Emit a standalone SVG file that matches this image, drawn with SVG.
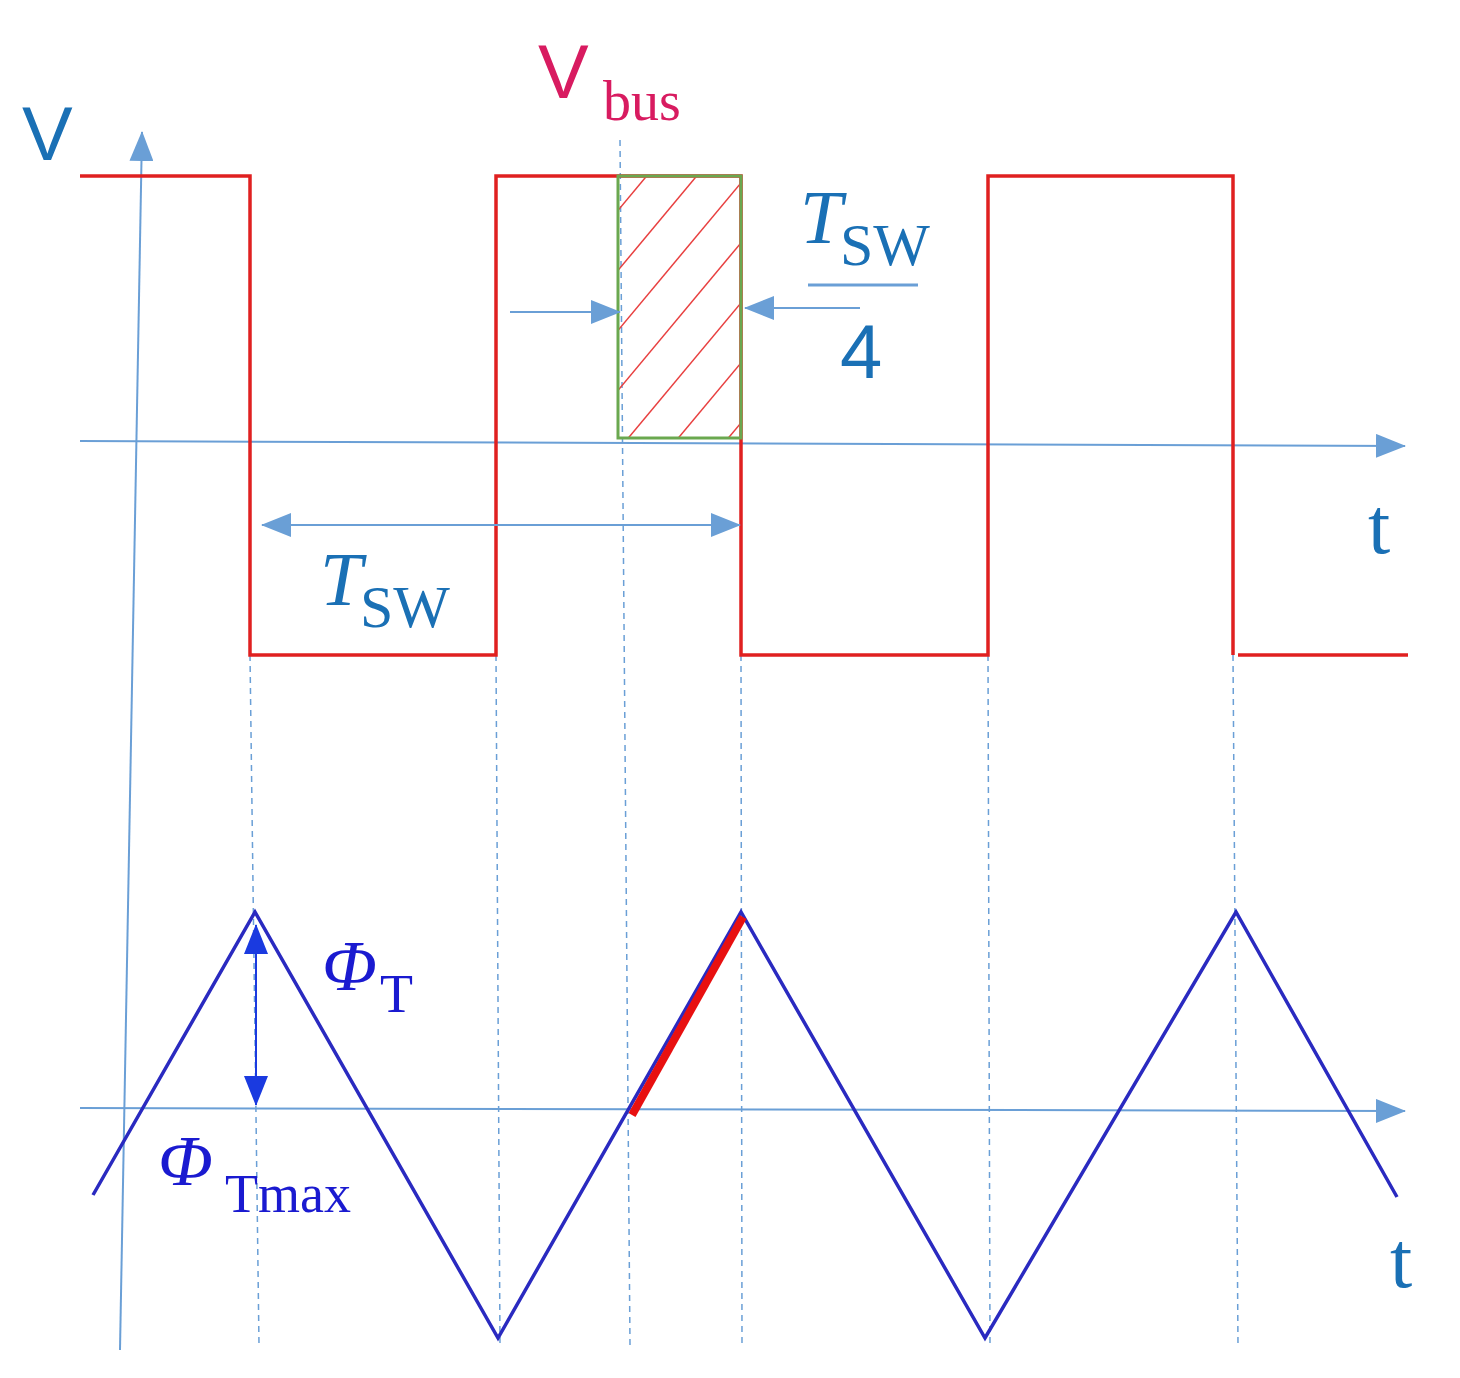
<svg xmlns="http://www.w3.org/2000/svg" width="1460" height="1378" viewBox="0 0 1460 1378">
<defs>
<style>
.ax{stroke:#6a9fd6;stroke-width:2;fill:none}
.dash{stroke:#6a9fd6;stroke-width:1.5;stroke-dasharray:6 5;fill:none}
.sq{stroke:#e02020;stroke-width:3.5;fill:none}
.tri{stroke:#2a2ac0;stroke-width:3.5;fill:none}
.lbl{font-family:"Liberation Serif",serif;fill:#1a70b5}
</style>
<marker id="ahl" markerWidth="30" markerHeight="24" refX="29" refY="12" orient="auto-start-reverse" markerUnits="userSpaceOnUse"><path d="M0,0 L30,12 L0,24 Z" fill="#6a9fd6"/></marker>
<marker id="ahb" markerWidth="30" markerHeight="24" refX="29" refY="12" orient="auto-start-reverse" markerUnits="userSpaceOnUse"><path d="M0,0 L30,12 L0,24 Z" fill="#1a3ae0"/></marker>
<clipPath id="cr"><rect x="618" y="176" width="123" height="262"/></clipPath>
</defs>
<rect width="1460" height="1378" fill="#fff"/>
<g id="dashes">
<line class="dash" x1="620" y1="140" x2="630" y2="1345"/>
<line class="dash" x1="250" y1="655" x2="259" y2="1345"/>
<line class="dash" x1="496" y1="655" x2="500" y2="1345"/>
<line class="dash" x1="741" y1="655" x2="742" y2="1345"/>
<line class="dash" x1="988" y1="655" x2="990" y2="1345"/>
<line class="dash" x1="1233" y1="655" x2="1238" y2="1345"/>
</g>
<g id="axes">
<line class="ax" x1="120" y1="1350" x2="142" y2="132" marker-end="url(#ahl)"/>
<line class="ax" x1="80" y1="441" x2="1405" y2="446" marker-end="url(#ahl)"/>
<line class="ax" x1="80" y1="1108" x2="1405" y2="1111" marker-end="url(#ahl)"/>
</g>
<g id="square">
<polyline class="sq" points="80,176 250,176 250,655 496,655 496,176 741,176 741,655 988,655 988,176 1233,176 1233,655"/>
<line class="sq" x1="1238" y1="655" x2="1408" y2="655"/>
</g>
<g id="hatch">
<g clip-path="url(#cr)" stroke="#e84040" stroke-width="1.5">
<line x1="560" y1="280" x2="760" y2="40"/>
<line x1="560" y1="340" x2="760" y2="100"/>
<line x1="560" y1="400" x2="760" y2="160"/>
<line x1="560" y1="460" x2="760" y2="220"/>
<line x1="560" y1="520" x2="760" y2="280"/>
<line x1="560" y1="580" x2="760" y2="340"/>
<line x1="560" y1="640" x2="760" y2="400"/>
</g>
<rect x="618" y="176" width="123" height="262" fill="none" stroke="#6aa84f" stroke-width="3"/>
</g>
<g id="triangle">
<polyline class="tri" points="93,1195 255,912 498,1338 741,912 985,1338 1236,912 1397,1197"/>
<line x1="632" y1="1115" x2="743" y2="917" stroke="#e81010" stroke-width="8"/>
</g>
<g id="arrows">
<line class="ax" x1="262" y1="525" x2="740" y2="525" marker-start="url(#ahl)" marker-end="url(#ahl)"/>
<line class="ax" x1="510" y1="312" x2="620" y2="312" marker-end="url(#ahl)"/>
<line class="ax" x1="860" y1="308" x2="745" y2="308" marker-end="url(#ahl)"/>
<line x1="808" y1="285" x2="918" y2="285" stroke="#6a9fd6" stroke-width="3"/>
<line x1="256" y1="925" x2="256" y2="1105" stroke="#1a3ae0" stroke-width="2" marker-start="url(#ahb)" marker-end="url(#ahb)"/>
</g>
<g id="labels">
<text x="22" y="160" font-family="Liberation Sans,sans-serif" font-size="76" fill="#1a70b5">V</text>
<text x="538" y="98" font-family="Liberation Sans,sans-serif" font-size="76" fill="#d81b60">V</text>
<text x="603" y="120" font-family="Liberation Serif,serif" font-size="56" fill="#d81b60">bus</text>
<text x="800" y="243" class="lbl" font-size="76" font-style="italic">T</text>
<text x="840" y="265" class="lbl" font-size="60">SW</text>
<text x="840" y="378" font-family="Liberation Sans,sans-serif" font-size="76" fill="#1a70b5">4</text>
<text x="320" y="605" class="lbl" font-size="76" font-style="italic">T</text>
<text x="360" y="627" class="lbl" font-size="60">SW</text>
<text x="1368" y="553" class="lbl" font-size="80">t</text>
<text x="1390" y="1287" class="lbl" font-size="80">t</text>
<text x="322" y="990" font-family="Liberation Serif,serif" font-size="72" font-style="italic" fill="#1a1ad0">Φ</text>
<text x="380" y="1012" font-family="Liberation Serif,serif" font-size="54" fill="#1a1ad0">T</text>
<text x="158" y="1185" font-family="Liberation Serif,serif" font-size="72" font-style="italic" fill="#1a1ad0">Φ</text>
<text x="225" y="1212" font-family="Liberation Serif,serif" font-size="54" fill="#1a1ad0">Tmax</text>
</g>
</svg>
